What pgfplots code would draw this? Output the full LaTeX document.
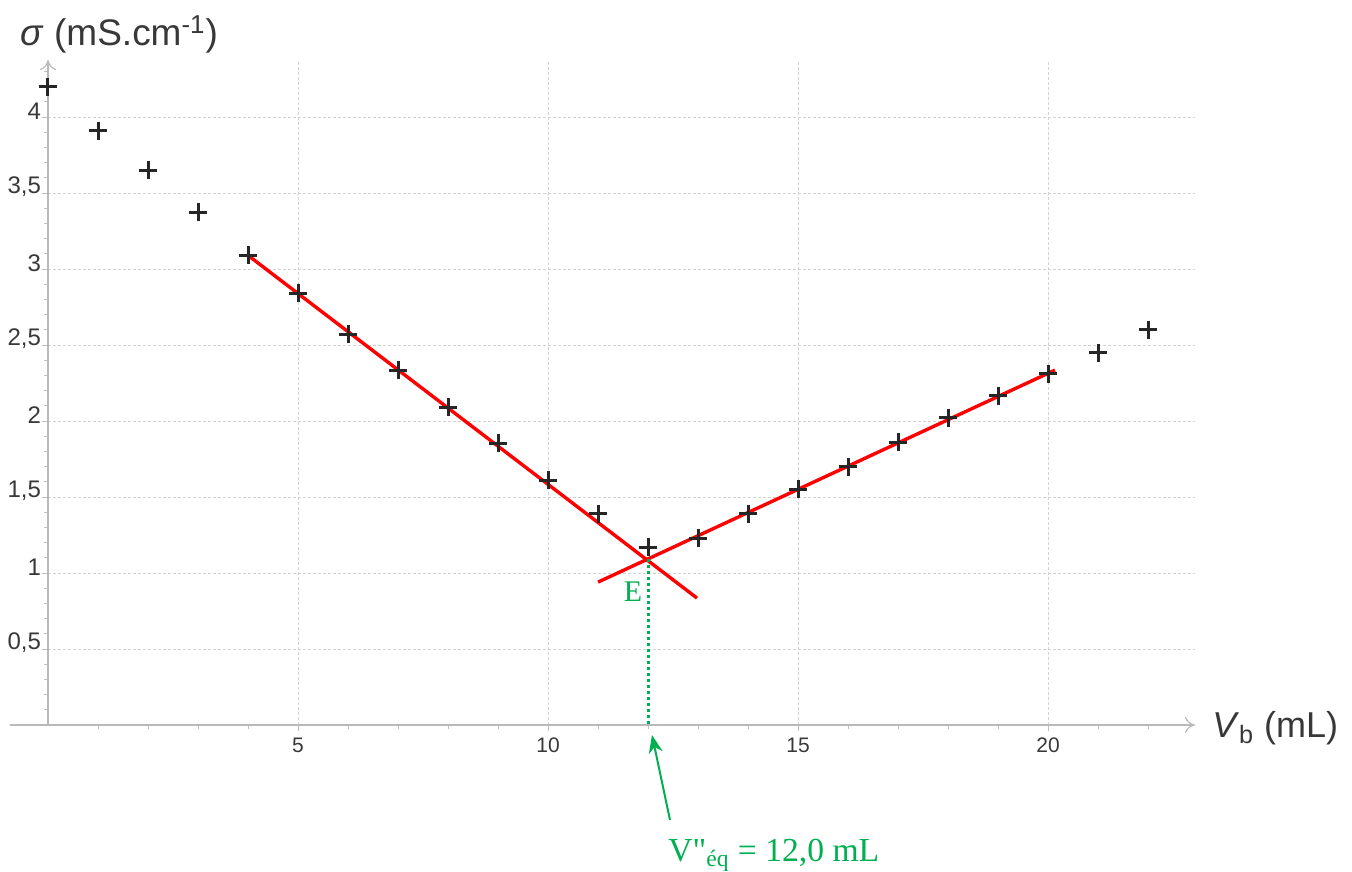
\documentclass[border=0pt]{standalone}
\usepackage{fontspec}
\setmainfont{Liberation Sans}
\newfontfamily\seriffont{Liberation Serif}
\usepackage{pgfplots}
\pgfplotsset{compat=1.18}
\usetikzlibrary{arrows.meta}
\definecolor{vert}{RGB}{0,176,80}
\begin{document}
\begin{tikzpicture}
\begin{axis}[
  scale only axis, width=573.5pt, height=332.5pt,
  xmin=0, xmax=22.94, ymin=0, ymax=4.375,
  clip=false,
  axis lines=left,
  axis line style={gray!55, line width=0.6pt, -{To[length=5pt,width=8pt]}},
  xtick={5,10,15,20}, ytick={0.5,1,1.5,2,2.5,3,3.5,4},
  minor xtick={1,2,3,4,6,7,8,9,11,12,13,14,16,17,18,19,21,22},
  minor ytick={0.1,0.2,0.3,0.4,0.6,0.7,0.8,0.9,1.1,1.2,1.3,1.4,1.6,1.7,1.8,1.9,2.1,2.2,2.3,2.4,2.6,2.7,2.8,2.9,3.1,3.2,3.3,3.4,3.6,3.7,3.8,3.9,4.1,4.2,4.3},
  tick align=outside,
  major tick length=3pt, minor tick length=2pt,
  tick style={gray!50, line width=0.4pt},
  grid=major,
  major grid style={gray!35, line width=0.5pt, dash pattern=on 1.5pt off 1pt},
  tick label style={text=black!78},
  xticklabel style={font=\fontsize{10.5}{11}\selectfont},
  yticklabel style={font=\fontsize{12}{13}\selectfont, yshift=3pt, xshift=3pt},
  /pgf/number format/assume math mode=true,
  /pgf/number format/use comma,
]
\path (axis cs:-0.96,-0.954) rectangle (axis cs:26.08,4.77);
\draw[gray!55, line width=0.6pt] (axis cs:-0.76,0) -- (axis cs:0,0);
\addplot[only marks, mark=+, mark size=4.5pt, black!85, line width=1.5pt] coordinates {
(0,4.20) (1,3.91) (2,3.65) (3,3.375) (4,3.09) (5,2.84) (6,2.57) (7,2.335)
(8,2.09) (9,1.855) (10,1.61) (11,1.39) (12,1.17) (13,1.23) (14,1.39)
(15,1.55) (16,1.70) (17,1.86) (18,2.02) (19,2.165) (20,2.31) (21,2.45) (22,2.60)};
\addplot[red, line width=1.7pt] coordinates {(4,3.09) (12.98,0.835)};
\addplot[red, line width=1.7pt] coordinates {(11,0.94) (20.14,2.335)};
\addplot[vert, line width=1.5pt, dash pattern=on 1.5pt off 1.5pt] coordinates {(12,1.09) (12,0)};
\draw[vert, line width=1pt, -{Stealth[length=9pt,width=7pt]}] (axis cs:12.44,-0.625) -- (axis cs:12.08,-0.066);
\node[anchor=base west, inner sep=0pt, font=\fontsize{18.5}{20}\selectfont, text=black!78] at (axis cs:-0.56,4.47) {\textit{σ} (mS.cm\textsuperscript{-1})};
\node[anchor=base west, inner sep=0pt, font=\fontsize{18}{20}\selectfont, text=black!78] at (axis cs:23.28,-0.079) {\textit{V}\textsubscript{b} (mL)};
\node[font=\seriffont\fontsize{15}{16}\selectfont, text=vert] at (axis cs:11.7,0.88) {E};
\node[anchor=base west, inner sep=0pt, font=\seriffont\fontsize{16.8}{18}\selectfont, text=vert] at (axis cs:12.4,-0.90) {V"\textsubscript{éq} = 12,0 mL};
\end{axis}
\end{tikzpicture}
\end{document}
